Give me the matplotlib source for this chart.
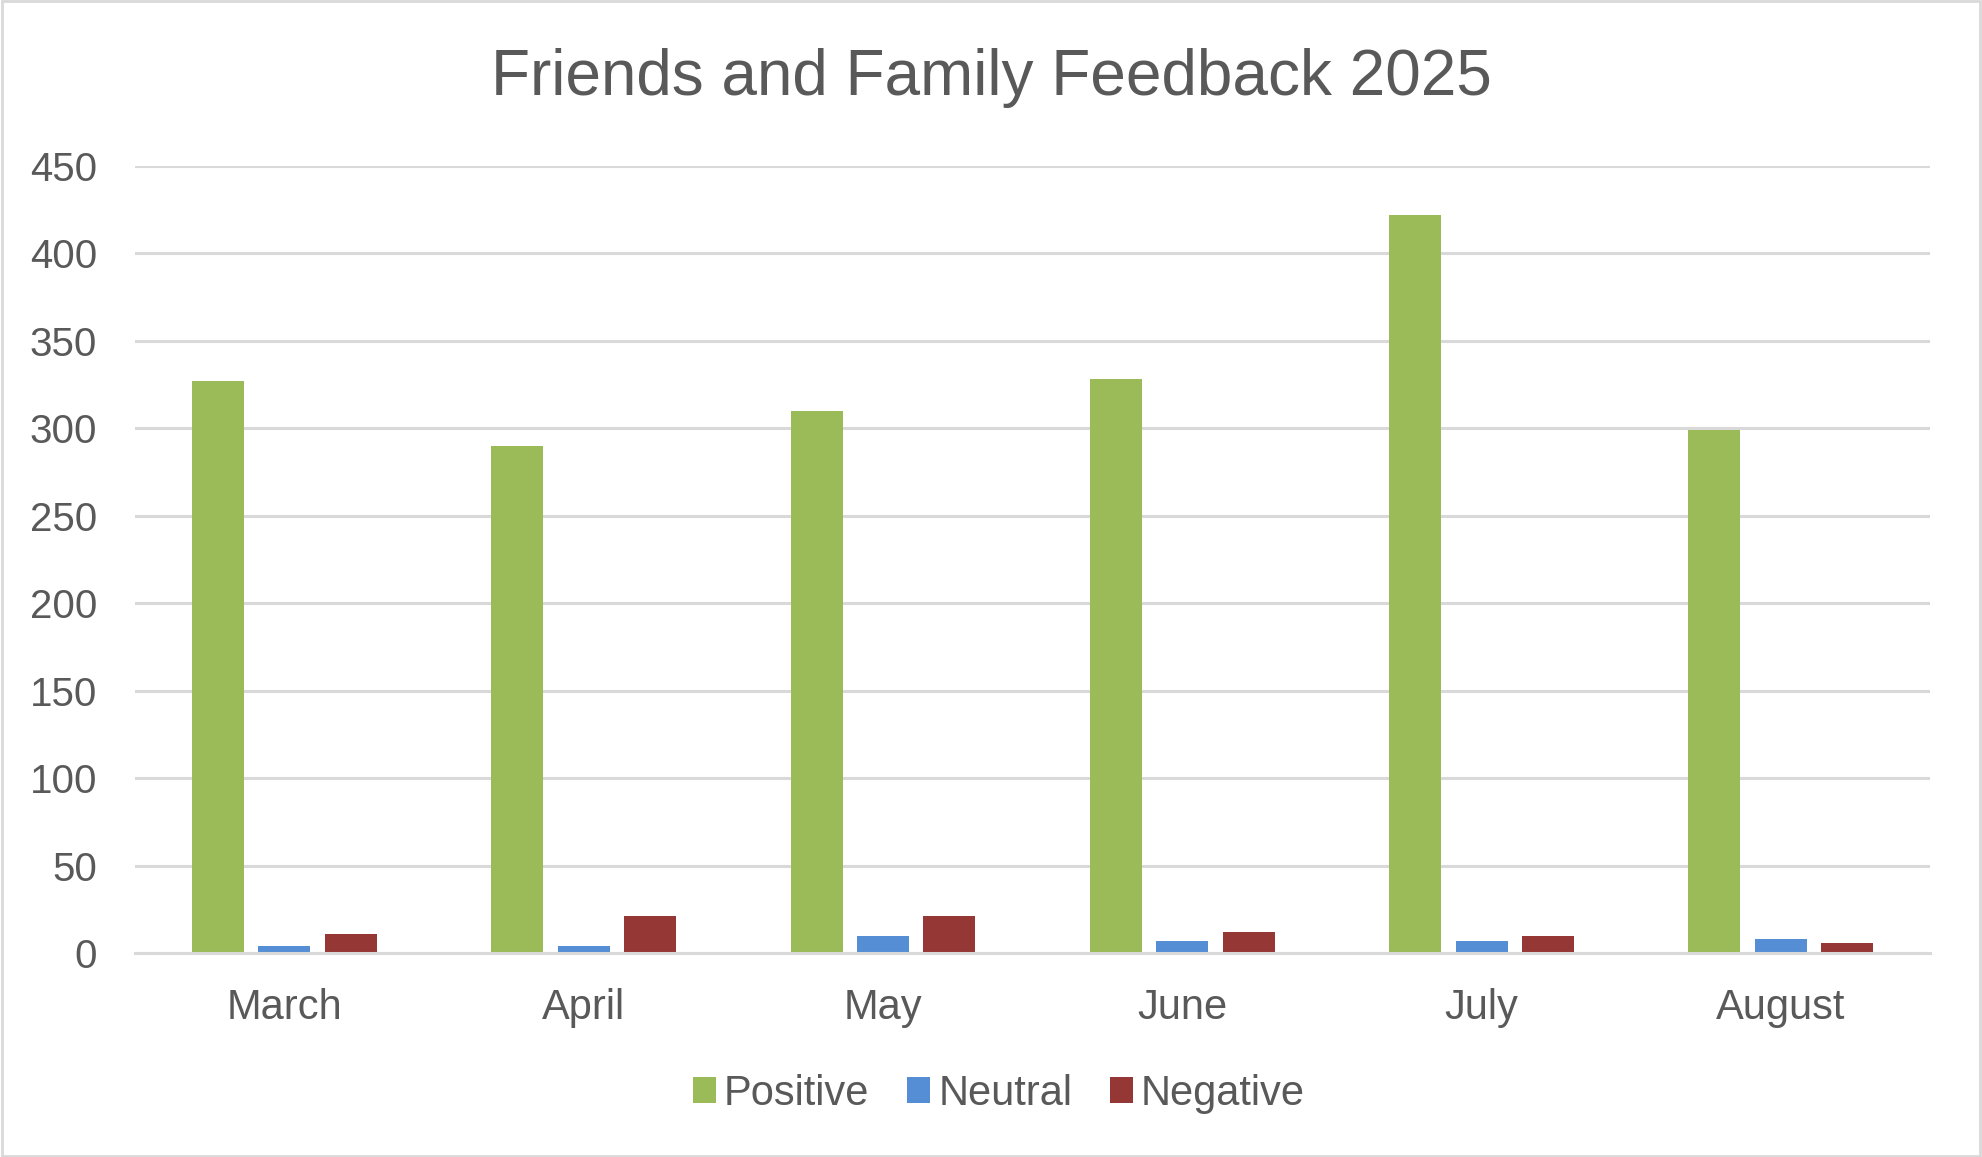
import matplotlib
matplotlib.use("Agg")
import matplotlib.pyplot as plt
import numpy as np

months = ["March", "April", "May", "June", "July", "August"]
positive = [327, 290, 310, 328, 422, 299]
neutral = [4, 4, 10, 7, 7, 8]
negative = [11, 21, 21, 12, 10, 6]

text_col = "#595959"
grid_col = "#D9D9D9"

plt.rcParams["font.family"] = ["Liberation Sans", "DejaVu Sans"]

fig = plt.figure(figsize=(19.82, 11.57), dpi=100)
ax = fig.add_axes([0.068, 0.1763, 0.906, 0.6802])

x = np.arange(len(months))
step = 0.222
w = 0.174
ax.bar(x - step, positive, w, color="#9BBB59", label="Positive")
ax.bar(x, neutral, w, color="#558ED5", label="Neutral")
ax.bar(x + step, negative, w, color="#953735", label="Negative")

ax.set_xlim(-0.5, len(months) - 0.5)
ax.set_ylim(0, 450)
ax.set_yticks(range(0, 451, 50))
ax.set_xticks(x)
ax.set_xticklabels(months)
ax.yaxis.grid(True, color=grid_col, linewidth=2.2)
ax.set_axisbelow(True)
for s in ["top", "right", "left"]:
    ax.spines[s].set_visible(False)
ax.spines["bottom"].set_color(grid_col)
ax.spines["bottom"].set_linewidth(2.2)
ax.tick_params(axis="both", length=0, colors=text_col)
ax.tick_params(axis="x", labelsize=30, pad=25)
ax.tick_params(axis="y", labelsize=29, pad=27)

fig.text(0.5, 0.933, "Friends and Family Feedback 2025", ha="center", va="center",
         fontsize=46, color=text_col)

leg = fig.legend(loc="center", bbox_to_anchor=(0.504, 0.0547), ncol=3, frameon=False,
                 fontsize=30, handlelength=0.55, handleheight=0.55, handletextpad=0.2,
                 columnspacing=0.9, labelcolor=text_col)

# light border round the chart
fig.add_artist(plt.Rectangle((0.001, 0.001), 0.998, 0.998, transform=fig.transFigure,
                             fill=False, edgecolor=grid_col, linewidth=2))

fig.savefig("out.png", dpi=100)
